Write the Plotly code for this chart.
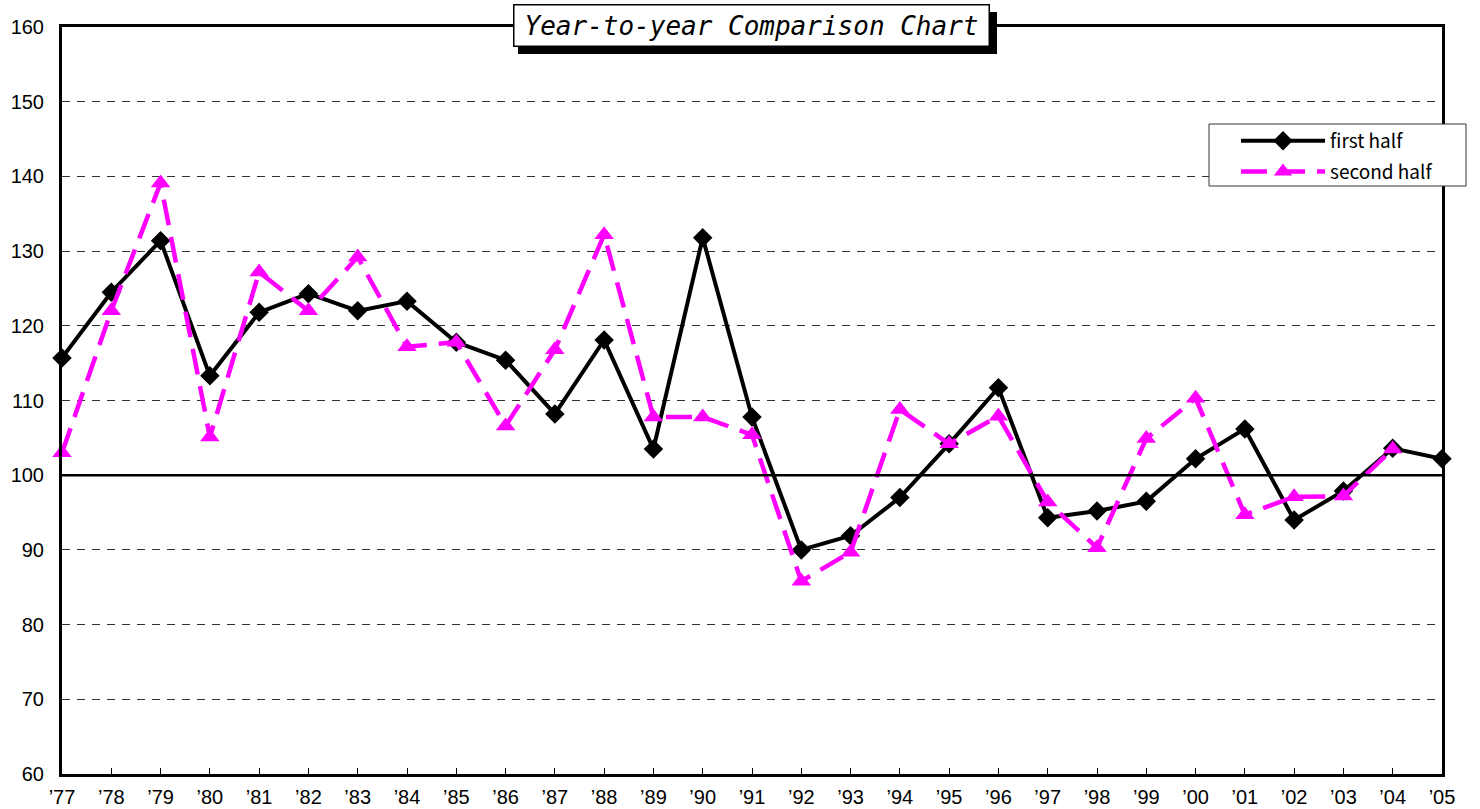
import plotly.graph_objects as go

years = ["’77", "’78", "’79", "’80", "’81", "’82", "’83", "’84", "’85", "’86",
         "’87", "’88", "’89", "’90", "’91", "’92", "’93", "’94", "’95", "’96",
         "’97", "’98", "’99", "’00", "’01", "’02", "’03", "’04", "’05"]

first_half = [115.7, 124.5, 131.4, 113.3, 121.8, 124.3, 122.0, 123.3, 117.8, 115.4,
              108.2, 118.1, 103.5, 131.8, 107.8, 90.0, 91.9, 97.0, 104.2, 111.7,
              94.3, 95.2, 96.5, 102.2, 106.2, 94.0, 97.9, 103.6, 102.2]

second_half = [103.0, 122.0, 139.1, 105.1, 127.2, 122.0, 129.2, 117.2, 117.8, 106.6,
               116.8, 132.2, 107.8, 107.8, 105.4, 85.8, 89.7, 108.8, 104.2, 107.9,
               96.4, 90.3, 104.9, 110.3, 94.7, 97.1, 97.2, 103.5, None]

y_ticks = [60, 70, 80, 90, 100, 110, 120, 130, 140, 150, 160]
title_text = "Year-to-year Comparison Chart"
base_font = "Noto Sans CJK JP, Noto Sans, sans-serif"
tick_font = "Liberation Sans, Arial, sans-serif"

# plot area geometry (pixels)
L, R, T, B = 62, 1442, 27, 774
W, H = R - L, B - T

def px_x(p):
    return (p - L) / W

def px_y(p):
    return (B - p) / H

fig = go.Figure()
fig.add_trace(go.Scatter(
    x=years, y=first_half, name="first half", mode="lines+markers",
    legendgroup="a",
    line=dict(color="black", width=4),
    marker=dict(symbol="diamond", size=15, color="black"),
    cliponaxis=False,
))
fig.add_trace(go.Scatter(
    x=years, y=second_half, name="second half", mode="lines+markers",
    legendgroup="b",
    line=dict(color="#FF00FF", width=4.5, dash="26px,12px"),
    marker=dict(symbol="triangle-up", size=17, color="#FF00FF"),
    cliponaxis=False, connectgaps=False,
))

fig.add_hline(y=100, line=dict(color="black", width=2.5), layer="above")

# title shadow
fig.add_shape(type="rect", xref="paper", yref="paper",
              x0=px_x(518), x1=px_x(997), y0=px_y(54), y1=px_y(12),
              fillcolor="black", line=dict(width=0), layer="above")
# legend frame
fig.add_shape(type="rect", xref="paper", yref="paper",
              x0=px_x(1209), x1=px_x(1466), y0=px_y(186), y1=px_y(124),
              fillcolor="white", line=dict(width=1, color="#333"), layer="above")

fig.update_layout(
    width=1480, height=809,
    margin=dict(l=L, r=1480 - R, t=T, b=809 - B),
    paper_bgcolor="white", plot_bgcolor="white",
    font=dict(family=base_font, size=20, color="black"),
    showlegend=True,
    legend=dict(
        x=px_x(1236), y=px_y(122), xanchor="left", yanchor="top",
        orientation="v", traceorder="grouped", tracegroupgap=3,
        bgcolor="rgba(0,0,0,0)", borderwidth=0,
        font=dict(family=base_font, size=19, color="black"),
        itemwidth=84,
    ),
    xaxis=dict(
        type="category", categoryorder="array", categoryarray=years,
        range=[0, len(years) - 1], automargin=False,
        showline=True, linecolor="black", linewidth=3, mirror=True,
        ticks="inside", ticklen=6, tickwidth=1, tickcolor="black",
        showgrid=False, ticklabelstandoff=3,
        tickfont=dict(family=tick_font, size=20),
        fixedrange=True,
    ),
    yaxis=dict(
        range=[60, 160], tickvals=y_ticks, automargin=False,
        showline=True, linecolor="black", linewidth=3, mirror=True,
        ticks="", showgrid=True, gridcolor="#333", gridwidth=1,
        griddash="8px,7px", zeroline=False,
        ticklabelstandoff=11,
        tickfont=dict(family=tick_font, size=20),
        fixedrange=True,
    ),
)

fig.add_annotation(
    xref="paper", yref="paper", x=px_x(751), y=px_y(26),
    xanchor="center", yanchor="middle",
    text=title_text, showarrow=False,
    width=472, height=38,
    bgcolor="white", bordercolor="black", borderwidth=1.5,
    font=dict(family="DejaVu Sans Mono, Liberation Mono, monospace", size=26,
              color="black", style="italic"),
)

fig.write_html(
    "out.html",
    config={"displayModeBar": False},
    post_script="document.body.style.margin='0';document.body.style.overflow='hidden';",
)
